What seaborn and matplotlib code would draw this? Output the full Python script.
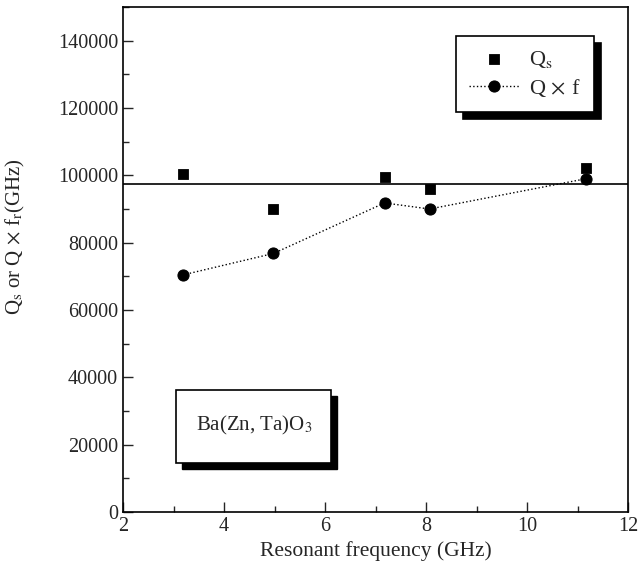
import seaborn as sns
import pandas as pd
import matplotlib.pyplot as plt
from matplotlib.patches import Rectangle
from matplotlib.ticker import MultipleLocator

sns.set_style("ticks")
plt.rcParams['font.family'] = ['Liberation Serif', 'DejaVu Serif']
plt.rcParams['mathtext.fontset'] = 'stix'

freq = [3.18, 4.98, 7.18, 8.07, 11.17]
qs = [100300, 90000, 99500, 95900, 102300]
qf = [70400, 76800, 91800, 90000, 99000]
ref_level = 97300

df = pd.DataFrame({"freq": freq, "Qs": qs, "Qf": qf})

fig = plt.figure(figsize=(6.42, 5.75), dpi=100)
ax = fig.add_axes([0.1916, 0.1096, 0.7866, 0.8782])

sns.scatterplot(data=df, x="freq", y="Qs", marker="s", s=55, color="black",
                edgecolor="black", label="Q$_\\mathrm{s}$", ax=ax, zorder=3)
sns.lineplot(data=df, x="freq", y="Qf", marker="o", markersize=8, color="black",
             linestyle=":", lw=1, markeredgecolor="black",
             label="Q$\\,\\times\\,$f", ax=ax, zorder=3)
ax.axhline(ref_level, color="black", lw=1.2, zorder=2)

ax.set_xlim(2, 12)
ax.set_ylim(0, 150000)
ax.xaxis.set_major_locator(MultipleLocator(2))
ax.xaxis.set_minor_locator(MultipleLocator(1))
ax.yaxis.set_major_locator(MultipleLocator(20000))
ax.yaxis.set_minor_locator(MultipleLocator(10000))
ax.tick_params(which="both", direction="in", labelsize=14.5, top=False, right=False)
ax.tick_params(which="major", length=7, width=1)
ax.tick_params(which="minor", length=4, width=1)
for s in ax.spines.values():
    s.set_linewidth(1.2)
    s.set_color("black")

ax.set_xlabel("Resonant frequency (GHz)", fontsize=15.5)
ax.set_ylabel("Q$_\\mathrm{s}$ or Q$\\,\\times\\,$f$_\\mathrm{r}$(GHz)", fontsize=15)
ax.yaxis.set_label_coords(-0.19, 0.545)

leg = ax.legend(loc="upper right", bbox_to_anchor=(0.933, 0.943), borderaxespad=0,
                fontsize=16, frameon=True, fancybox=False, handlelength=2.25,
                borderpad=0.6, labelspacing=0.3, handletextpad=0.45,
                shadow={'ox': 5, 'oy': -5, 'facecolor': 'black', 'edgecolor': 'black', 'alpha': 1})
leg.get_frame().set_edgecolor("black")
leg.get_frame().set_linewidth(1.2)
leg.get_frame().set_alpha(1)

# composition label box with drop shadow
ax.add_patch(Rectangle((0.117, 0.085), 0.307, 0.145, transform=ax.transAxes,
                       facecolor="black", edgecolor="black", zorder=4))
ax.add_patch(Rectangle((0.105, 0.097), 0.307, 0.145, transform=ax.transAxes,
                       facecolor="white", edgecolor="black", lw=1.2, zorder=5))
ax.text(0.260, 0.172, "Ba(Zn, Ta)O$_\\mathrm{3}$", transform=ax.transAxes,
        ha="center", va="center", fontsize=15, zorder=6)

plt.savefig("out.png", dpi=100)
